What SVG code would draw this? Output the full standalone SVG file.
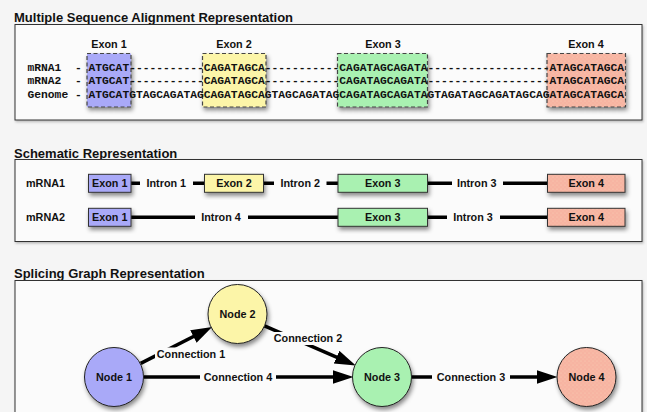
<svg xmlns="http://www.w3.org/2000/svg" width="647" height="412" viewBox="0 0 647 412">
  <style>
    .title { font-family: "Liberation Sans", Arial, sans-serif; font-weight: bold; font-size: 13px; fill: #111; }
    .lbl { font-family: "Liberation Sans", Arial, sans-serif; font-weight: bold; font-size: 10.8px; fill: #111; }
    .mid { text-anchor: middle; }
    .seq { font-family: "Liberation Mono", "Courier New", monospace; font-weight: bold; font-size: 11.3px; fill: #111; }
    .panel { fill: #fbfbfb; stroke: #333; stroke-width: 1; filter: url(#panelShadow); }
    .dbox { stroke: #444; stroke-width: 1.2; stroke-dasharray: 4 2.5; filter: url(#shadow); }
    .sbox { stroke: #333; stroke-width: 1; filter: url(#shadow); }
    .node { stroke: #222; stroke-width: 1; filter: url(#shadow); }
    .c1 { fill: #a9a9f8; }
    .c2 { fill: #fcf5a8; }
    .c3 { fill: #a9f1b1; }
    .c4 { fill: url(#dots); }
    .intron { stroke: #000; stroke-width: 3.5; fill: none; }
    .edge { stroke: #000; stroke-width: 3.5; fill: none; marker-end: url(#arrow); }
    .halo { fill: #fbfbfb; }
  </style>
  <defs>
    <filter id="shadow" x="-20%" y="-20%" width="150%" height="160%">
      <feDropShadow dx="1.5" dy="3" stdDeviation="2" flood-color="#000" flood-opacity="0.45"/>
    </filter>
    <filter id="panelShadow" x="-5%" y="-5%" width="110%" height="115%">
      <feDropShadow dx="1" dy="1.5" stdDeviation="1.2" flood-color="#000" flood-opacity="0.25"/>
    </filter>
    <pattern id="dots" width="4" height="4" patternUnits="userSpaceOnUse">
      <rect width="4" height="4" fill="#f7b4a2"/>
      <circle cx="1" cy="1" r="0.5" fill="#fbd6b8"/>
      <circle cx="3" cy="3" r="0.5" fill="#f9c9ae"/>
    </pattern>
    <marker id="arrow" markerUnits="userSpaceOnUse" markerWidth="22" markerHeight="16" refX="10" refY="7" orient="auto">
      <path d="M0,0 L21,7 L0,14 z" fill="#000"/>
    </marker>
  </defs>

  <rect width="647" height="412" fill="#f5f5f5"/>

  <!-- ===== Multiple sequence alignment ===== -->
  <g id="msa">
    <text class="title" x="14" y="22">Multiple Sequence Alignment Representation</text>
    <rect class="panel" x="15" y="24.5" width="627" height="95.5"/>

    <g id="msa-exon1">
      <rect class="dbox c1" x="87" y="53.5" width="44" height="53.5"/>
      <text class="lbl mid" x="109" y="47.5">Exon 1</text>
    </g>
    <g id="msa-exon2">
      <rect class="dbox c2" x="202.5" y="53.5" width="63.5" height="53.5"/>
      <text class="lbl mid" x="234" y="47.5">Exon 2</text>
    </g>
    <g id="msa-exon3">
      <rect class="dbox c3" x="337.5" y="53.5" width="90" height="53.5"/>
      <text class="lbl mid" x="383" y="47.5">Exon 3</text>
    </g>
    <g id="msa-exon4">
      <rect class="dbox c4" x="547" y="53.5" width="78.5" height="53.5"/>
      <text class="lbl mid" x="586" y="47.5">Exon 4</text>
    </g>

    <!-- aligned rows -->
    <g id="msa-rows">
      <text class="seq" x="27.5" y="71">mRNA1</text>
      <text class="seq" x="75" y="71">-</text>
      <text class="seq" x="88.5" y="71">ATGCAT-----------CAGATAGCA-----------CAGATAGCAGATA------------------ATAGCATAGCA</text>
      <text class="seq" x="27.5" y="84.3">mRNA2</text>
      <text class="seq" x="75" y="84.3">-</text>
      <text class="seq" x="88.5" y="84.3">ATGCAT-----------CAGATAGCA-----------CAGATAGCAGATA------------------ATAGCATAGCA</text>
      <text class="seq" x="27.5" y="97.6">Genome</text>
      <text class="seq" x="75" y="97.6">-</text>
      <text class="seq" x="88.5" y="97.6">ATGCATGTAGCAGATAGCAGATAGCAGTAGCAGATAGCAGATAGCAGATAGTAGATAGCAGATAGCAGATAGCATAGCA</text>
    </g>
  </g>

  <!-- ===== Schematic ===== -->
  <g id="schematic">
    <text class="title" x="14" y="157.5">Schematic Representation</text>
    <rect class="panel" x="15" y="159.5" width="627" height="82"/>

    <g id="introns">
      <path class="intron" d="M131,183.3H140 M193,183.3H204.5 M263.5,183.3H274 M326.5,183.3H338 M427.5,183.3H452 M503,183.3H547.5"/>
      <path class="intron" d="M131,217.3H195 M248,217.3H338 M427.5,217.3H447 M500,217.3H547.5"/>
      <text class="lbl mid" x="166.3" y="187.2">Intron 1</text>
      <text class="lbl mid" x="300.2" y="187.2">Intron 2</text>
      <text class="lbl mid" x="476.7" y="187.2">Intron 3</text>
      <text class="lbl mid" x="221" y="221.2">Intron 4</text>
      <text class="lbl mid" x="473" y="221.2">Intron 3</text>
    </g>

    <g id="row-mrna1">
      <text class="lbl" x="26" y="187.2">mRNA1</text>
      <g id="m1-exon1"><rect class="sbox c1" x="88.5" y="174.3" width="42.5" height="18"/><text class="lbl mid" x="109.7" y="187.2">Exon 1</text></g>
      <g id="m1-exon2"><rect class="sbox c2" x="204.5" y="174.3" width="59" height="18"/><text class="lbl mid" x="234" y="187.2">Exon 2</text></g>
      <g id="m1-exon3"><rect class="sbox c3" x="338" y="174.3" width="89.5" height="18"/><text class="lbl mid" x="382.7" y="187.2">Exon 3</text></g>
      <g id="m1-exon4"><rect class="sbox c4" x="547.5" y="174.3" width="77.5" height="18"/><text class="lbl mid" x="586.2" y="187.2">Exon 4</text></g>
    </g>
    <g id="row-mrna2">
      <text class="lbl" x="26" y="221.2">mRNA2</text>
      <g id="m2-exon1"><rect class="sbox c1" x="88.5" y="208.3" width="42.5" height="18"/><text class="lbl mid" x="109.7" y="221.2">Exon 1</text></g>
      <g id="m2-exon3"><rect class="sbox c3" x="338" y="208.3" width="89.5" height="18"/><text class="lbl mid" x="382.7" y="221.2">Exon 3</text></g>
      <g id="m2-exon4"><rect class="sbox c4" x="547.5" y="208.3" width="77.5" height="18"/><text class="lbl mid" x="586.2" y="221.2">Exon 4</text></g>
    </g>
  </g>

  <!-- ===== Splicing graph ===== -->
  <g id="graph">
    <text class="title" x="14" y="277.5">Splicing Graph Representation</text>
    <rect class="panel" x="15" y="280.5" width="627" height="145"/>

    <g id="connectors">
      <!-- node 1 -> node 2 -->
      <path class="edge" d="M140.7,363.4 L202.3,332"/>
      <rect class="halo" x="155" y="347.5" width="72" height="13"/>
      <text class="lbl mid" x="191" y="358.2">Connection 1</text>
      <!-- node 2 -> node 3 -->
      <path class="edge" d="M264.5,325.8 L345.7,361.2"/>
      <rect class="halo" x="271" y="332" width="74" height="13"/>
      <text class="lbl mid" x="308" y="342.3">Connection 2</text>
      <!-- node 1 -> node 3 -->
      <path class="edge" d="M144,377 H342.5"/>
      <rect class="halo" x="200" y="370.5" width="76" height="13"/>
      <text class="lbl mid" x="238" y="381">Connection 4</text>
      <!-- node 3 -> node 4 -->
      <path class="edge" d="M411.5,377 H546.5"/>
      <rect class="halo" x="432" y="370.5" width="78" height="13"/>
      <text class="lbl mid" x="471" y="381">Connection 3</text>
    </g>

    <g id="node1"><circle class="node c1" cx="114" cy="377" r="29.5"/><text class="lbl mid" x="114" y="381">Node 1</text></g>
    <g id="node2"><circle class="node c2" cx="237.5" cy="314" r="29.5"/><text class="lbl mid" x="237.5" y="318">Node 2</text></g>
    <g id="node3"><circle class="node c3" cx="382" cy="377" r="29.5"/><text class="lbl mid" x="382" y="381">Node 3</text></g>
    <g id="node4"><circle class="node c4" cx="586.5" cy="377" r="29.5"/><text class="lbl mid" x="586.5" y="381">Node 4</text></g>
  </g>
</svg>
